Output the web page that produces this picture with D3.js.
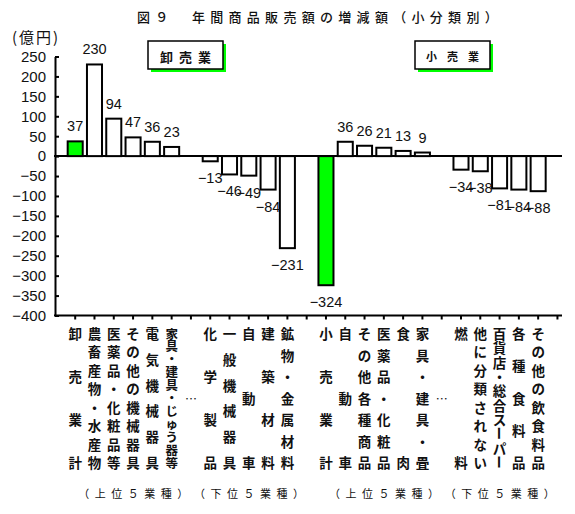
<!DOCTYPE html>
<html>
<head>
<meta charset="utf-8">
<script src="https://cdn.jsdelivr.net/npm/d3@7"></script>
<style>
body { margin: 0; background: #fff; }
text { fill: #111; }
</style>
</head>
<body>
<svg id="chart" width="575" height="514"></svg>
<script>
// slots along the x axis, left to right (blank = gap)
var categories = ["卸売業計","農畜産物・水産物","医薬品・化粧品等","その他の機械器具","電気機械器具","家具・建具・じゅう器等","…",
  "化学製品","一般機械器具","自動車","建築材料","鉱物・金属材料","",
  "小売業計","自動車","その他各種商品","医薬品・化粧品","食肉","家具・建具・畳","…",
  "燃料","他に分類されない","百貨店・総合スーパー","各種食料品","その他の飲食料品"];
var values = [37,230,94,47,36,23,null,-13,-46,-49,-84,-231,null,-324,36,26,21,13,9,null,-34,-38,-81,-84,-88];
var totals = [0, 13];   // index of 卸売業計, 小売業計 (green bars)
var yTicks = [250,200,150,100,50,0,-50,-100,-150,-200,-250,-300,-350,-400];
var groupLabels = ["（上位５業種）","（下位５業種）","（上位５業種）","（下位５業種）"];
var groupCenters = [3, 9, 16, 22];
var boxLabels = ["卸売業","小売業"];
var title = "図９　年間商品販売額の増減額（小分類別）";

var svg = d3.select("#chart");

var x = d3.scaleBand().domain(d3.range(categories.length)).range([65.55, 547.8])
  .paddingInner(0.22).paddingOuter(0.11);
var y = d3.scaleLinear().domain([-400, 250]).range([315.5, 56.5]);
var cx = function(i){ return x(0) + x.bandwidth()/2 + i * x.step(); };

// title
svg.append("text").attr("x", 137).attr("y", 22)
  .style("font-family", "'Noto Sans CJK JP'").style("font-size", "13px")
  .style("font-weight", "500").style("letter-spacing", "5.3px").text(title);

// y label
svg.append("text").attr("x", 12).attr("y", 43)
  .style("font-family", "'Noto Sans CJK JP'").style("font-size", "15px")
  .style("letter-spacing", "2px").text("(億円)");

// legend-like boxes
var boxes = [{x:148, y:41, w:75, h:28, fs:13, ls:6}, {x:415, y:41, w:75, h:28, fs:11, ls:10}];
boxes.forEach(function(b, i){
  svg.append("rect").attr("x", b.x+3).attr("y", b.y+3).attr("width", b.w).attr("height", b.h).attr("fill", "#00ff00");
  svg.append("rect").attr("x", b.x).attr("y", b.y).attr("width", b.w).attr("height", b.h)
    .attr("fill", "#fff").attr("stroke", "#000").attr("stroke-width", 1.5);
  svg.append("text").attr("x", b.x + b.w/2 + b.ls/2).attr("y", b.y + b.h/2 + 1)
    .attr("text-anchor", "middle").attr("dominant-baseline", "central")
    .style("font-family", "'Noto Sans CJK JP'").style("font-size", b.fs + "px")
    .style("font-weight", "bold").style("letter-spacing", b.ls + "px").text(boxLabels[i]);
});

// y axis
var yAxis = svg.append("g").attr("transform", "translate(55,0)")
  .call(d3.axisLeft(y).tickValues(yTicks).tickSize(-4).tickSizeOuter(0).tickPadding(9));
yAxis.select(".domain").attr("stroke-width", 2);
yAxis.selectAll(".tick line").attr("stroke-width", 2);
yAxis.selectAll("text").style("font-family", "'Liberation Sans', Arial").style("font-size", "15px").attr("fill", "#111");

// zero line and bottom axis
svg.append("line").attr("x1", 54).attr("x2", 562).attr("y1", y(0)).attr("y2", y(0))
  .attr("stroke", "#000").attr("stroke-width", 2);
svg.append("line").attr("x1", 54).attr("x2", 562).attr("y1", y(-400)).attr("y2", y(-400))
  .attr("stroke", "#000").attr("stroke-width", 2);
svg.selectAll(".xtick").data(d3.range(categories.length + 1)).enter().append("line")
  .attr("x1", cx).attr("x2", cx).attr("y1", y(-400)).attr("y2", y(-400) + 4)
  .attr("stroke", "#000").attr("stroke-width", 2);

// bars
var barData = values.map(function(v, i){ return {i: i, v: v}; }).filter(function(d){ return d.v !== null; });
svg.selectAll(".bar").data(barData).enter().append("rect")
  .attr("x", function(d){ return x(d.i); })
  .attr("y", function(d){ return y(Math.max(0, d.v)); })
  .attr("width", x.bandwidth())
  .attr("height", function(d){ return Math.abs(y(d.v) - y(0)); })
  .attr("fill", function(d){ return totals.indexOf(d.i) >= 0 ? "#00ff00" : "#fff"; })
  .attr("stroke", "#000").attr("stroke-width", 2);

// value labels
var fmt = d3.format("d");
svg.selectAll(".val").data(barData).enter().append("text")
  .attr("x", function(d){ return cx(d.i); })
  .attr("y", function(d){ return d.v >= 0 ? y(d.v) - 10 : y(d.v) + 22; })
  .attr("text-anchor", "middle")
  .style("font-family", "'Liberation Sans', Arial").style("font-size", "14.5px")
  .text(function(d){ return fmt(d.v); });

// vertical category labels
var rowTop = 333, rowBottom = 462;
categories.forEach(function(c, i){
  if (!c) return;
  var g = svg.append("g");
  if (c === "…") {
    g.append("text").attr("x", cx(i)).attr("y", 398).attr("text-anchor", "middle")
      .attr("dominant-baseline", "central")
      .style("font-family", "'Noto Sans CJK JP'").style("font-size", "12px").text("…");
    return;
  }
  var chars = Array.from(c);
  var step = (rowBottom - rowTop) / (chars.length - 1);
  chars.forEach(function(ch, k){
    var cy = rowTop + k * step;
    var t = g.append("text").attr("x", cx(i)).attr("y", cy)
      .attr("text-anchor", "middle").attr("dominant-baseline", "central")
      .style("font-family", "'Noto Sans CJK JP'").style("font-size", chars.length > 10 ? "12.5px" : "13.5px")
      .style("font-weight", "bold").text(ch);
    if (ch === "ー") t.attr("transform", "rotate(90," + cx(i) + "," + cy + ")");
  });
});

// group labels under categories
groupLabels.forEach(function(s, i){
  svg.append("text").attr("x", cx(groupCenters[i]) + 3).attr("y", 493)
    .attr("text-anchor", "middle").attr("dominant-baseline", "central")
    .style("font-family", "'Noto Sans CJK JP'").style("font-size", "11px")
    .style("letter-spacing", "5.5px").text(s);
});
</script>
</body>
</html>
